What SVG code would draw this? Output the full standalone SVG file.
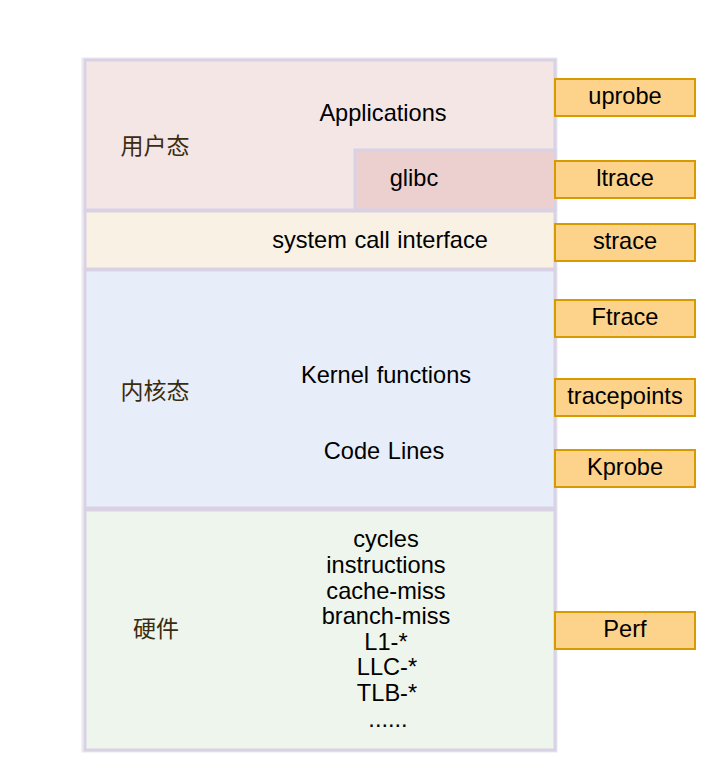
<svg xmlns="http://www.w3.org/2000/svg" width="720" height="770" viewBox="0 0 720 770">
<style>
text{font-family:"Liberation Sans",Arial,"Noto Sans CJK SC",sans-serif;font-size:23.6px;fill:#000;text-anchor:middle;dominant-baseline:central}
.cn{fill:#3a2c10;font-size:23px}
.layer{stroke:#d8d2e4;stroke-width:3}
.tool{fill:#fdd28a;stroke:#d79b00;stroke-width:2}
</style>
<rect width="720" height="770" fill="#fff"/>
<rect x="82.5" y="58.5" width="474" height="693" fill="none" stroke="#ece8f0" stroke-width="2"/>
<g id="user">
<rect class="layer" x="85" y="60" width="470" height="150" fill="#f5e6e6"/>
<text x="383" y="113">Applications</text>
<text class="cn" x="155" y="146">用户态</text>
</g>
<g id="glibc">
<rect class="layer" x="355" y="150" width="200" height="60" fill="#ecd0d0"/>
<text x="414" y="178">glibc</text>
</g>
<g id="syscall">
<rect class="layer" x="85" y="211" width="470" height="58" fill="#f8f1e4"/>
<text x="380" y="240" word-spacing="1">system call interface</text>
</g>
<g id="kernel">
<rect class="layer" x="85" y="270" width="470" height="238" fill="#e8eef9"/>
<text class="cn" x="155" y="391">内核态</text>
<text x="386" y="375" word-spacing="1">Kernel functions</text>
<text x="384" y="451" word-spacing="1">Code Lines</text>
</g>
<g id="hardware">
<rect class="layer" x="85" y="510" width="470" height="240" fill="#eef5ec"/>
<text class="cn" x="156" y="629">硬件</text>
<text x="386" y="539">cycles</text>
<text x="386" y="565">instructions</text>
<text x="386" y="591">cache-miss</text>
<text x="386" y="616">branch-miss</text>
<text x="386" y="642">L1-*</text>
<text x="387" y="667">LLC-*</text>
<text x="387" y="693">TLB-*</text>
<text x="388" y="719">......</text>
</g>
<g id="uprobe"><rect class="tool" x="555" y="79" width="140" height="37"/><text x="625" y="96">uprobe</text></g>
<g id="ltrace"><rect class="tool" x="555" y="161" width="140" height="37"/><text x="625" y="178">ltrace</text></g>
<g id="strace"><rect class="tool" x="555" y="224" width="140" height="37"/><text x="625" y="241">strace</text></g>
<g id="Ftrace"><rect class="tool" x="555" y="300" width="140" height="37"/><text x="625" y="317">Ftrace</text></g>
<g id="tracepoints"><rect class="tool" x="555" y="379" width="140" height="37"/><text x="625" y="396">tracepoints</text></g>
<g id="Kprobe"><rect class="tool" x="555" y="450" width="140" height="37"/><text x="625" y="467">Kprobe</text></g>
<g id="Perf"><rect class="tool" x="555" y="612" width="140" height="37"/><text x="625" y="629">Perf</text></g>
<g id="connectors"></g>
</svg>
